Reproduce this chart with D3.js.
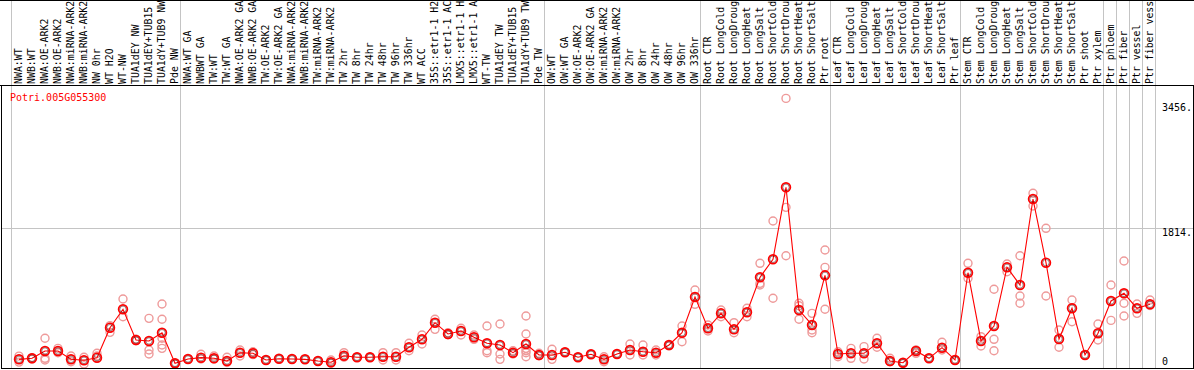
<!DOCTYPE html>
<html>
<head>
<meta charset="utf-8">
<script src="https://cdn.jsdelivr.net/npm/d3@7/dist/d3.min.js"></script>
<style>
  html, body { margin: 0; padding: 0; background: #fff; }
  svg { display: block; }
  text { font-family: "DejaVu Sans Mono", "Liberation Mono", monospace; }
</style>
</head>
<body>
<svg id="chart" width="1194" height="370"></svg>
<script>
const geneId = "Potri.005G055300";

// labels as they appear in the header (the source truncates to 14 characters)
const categories = [
  "NWA:WT","NWB:WT","NWA:OE-ARK2","NWB:OE-ARK2","NWA:miRNA-ARK2","NWB:miRNA-ARK2","NW 0hr","WT H2O","WT-NW","TUA1dEY NW","TUA1dEY+TUB15","TUA1dY+TUB9 NW","Pde NW",
  "NWA:WT GA","NWBWT GA","TW:WT","TW:WT GA","NWA:OE-ARK2 GA","NWB:OE-ARK2 GA","TW:OE-ARK2","TW:OE-ARK2 GA","NWA:miRNA-ARK2","NWB:miRNA-ARK2","TW:miRNA-ARK2","TW:miRNA-ARK2","TW 2hr","TW 8hr","TW 24hr","TW 48hr","TW 96hr","TW 336hr","WT ACC","35S::etr1-1 H2","35S::etr1-1 AC","LMX5::etr1-1 H","LMX5::etr1-1 A","WT-TW","TUA1dEY TW","TUA1dEY+TUB15","TUA1dY+TUB9 TW","Pde TW",
  "OW:WT","OW:WT GA","OW:OE-ARK2","OW:OE-ARK2 GA","OW:miRNA-ARK2","OW:miRNA-ARK2","OW 2hr","OW 8hr","OW 24hr","OW 48hr","OW 96hr","OW 336hr",
  "Root CTR","Root LongCold","Root LongDroug","Root LongHeat","Root LongSalt","Root ShortCold","Root ShortDrou","Root ShortHeat","Root ShortSalt","Ptr root",
  "Leaf CTR","Leaf LongCold","Leaf LongDroug","Leaf LongHeat","Leaf LongSalt","Leaf ShortCold","Leaf ShortDrou","Leaf ShortHeat","Leaf ShortSalt","Ptr leaf",
  "Stem CTR","Stem LongCold","Stem LongDroug","Stem LongHeat","Stem LongSalt","Stem ShortCold","Stem ShortDrou","Stem ShortHeat","Stem ShortSalt","Ptr shoot","Ptr xylem",
  "Ptr phloem","Ptr fiber","Ptr vessel","Ptr fiber vess"
];

// group boundaries (category index where a new group starts)
const groupBreaks = [0, 13, 41, 53, 63, 73, 84, 85, 86, 87, 88];

const means = [
  160,173,265,265,160,148,181,560,792,404,392,496,110,
  164,181,173,139,244,236,152,168,164,160,139,123,206,186,186,193,193,312,413,623,480,518,438,363,341,244,354,215,
  215,249,186,224,160,227,278,256,244,341,496,947,
  552,741,539,754,1196,1424,2333,783,594,1221,
  227,236,236,363,139,117,265,173,307,152,
  1254,392,581,1322,1099,2185,1381,417,805,215,489,
  897,994,805,855
];

const replicates = [
  [125,200],[165,180],[426,173,152],[299,244],[202,130],[186,101],[236,202],[585,501],[922,698],[413,395],[678,278,227],[859,666,426,341,299],[110,105],
  [164],[224,165],[202,165],[186,120],[278,202],[256,220],[152],[168],[164],[160],[139],[152,110],[244,186],[186],[186],[244,152],[244,152],[363,269],[467,354],[666,539],[496,470],[552,467],[467,413],[581,269,244],[606,227,160],[269,227],[707,480,299,269,244,193],[236,205],
  [287,160],[249],[186],[224],[193,130],[227],[354,215],[341,215],[278,215],[341,330],[581,383],[1036,855],
  [594,518],[783,698],[623,496],[805,698],[1373,1120,1099],[1907,931],[3456,2080,1469],[868,837,666],[741,530,496],[1541,1322,792],
  [256,193],[299,173],[320,164],[426,312],[173,130],[117,110],[236,280],[173],[375,278],[152],
  [1373,1184],[446,328],[1045,413,269],[1364,1267],[1469,960,868],[2257,2097],[1815,960],[530,312],[909,635],[215],[606,404],
  [1099,652],[1402,868,707],[859,741],[909,840]
];

const yTicks = [0, 1814, 3456];
const yTickLabels = ["0", "1814.", "3456."];

const W = 1194, H = 370;
const headerBottom = 85.5;
const plotBottom = 368.5;

const svg = d3.select("#chart");

const x = d3.scaleLinear().domain([0, categories.length]).range([11, 1155]);
const cx = i => x(i) + 8;
const y = d3.scaleLinear().domain([0, 3456]).range([372, 98.4]);

svg.append("defs").append("clipPath").attr("id", "plotclip")
  .append("rect").attr("x", 2).attr("y", headerBottom + 0.5).attr("width", 1191).attr("height", plotBottom - headerBottom - 1);

// vertical group gridlines
svg.append("g").selectAll("line").data(groupBreaks).join("line")
  .attr("x1", d => Math.round(x(d)) + 0.5).attr("x2", d => Math.round(x(d)) + 0.5)
  .attr("y1", 0).attr("y2", plotBottom)
  .attr("stroke", "#c4c4c4").attr("stroke-width", 1);

// horizontal gridline
svg.append("g").selectAll("line").data(yTicks.filter(t => t > 0 && t < 3456)).join("line")
  .attr("x1", 2).attr("x2", 1193)
  .attr("y1", d => Math.round(y(d)) + 0.5).attr("y2", d => Math.round(y(d)) + 0.5)
  .attr("stroke", "#c4c4c4").attr("stroke-width", 1);

// frame lines
const frame = svg.append("g").attr("stroke", "#000").attr("stroke-width", 1);
frame.append("line").attr("x1", 0).attr("x2", W).attr("y1", 0.5).attr("y2", 0.5);
frame.append("line").attr("x1", 0).attr("x2", W).attr("y1", headerBottom).attr("y2", headerBottom);
frame.append("line").attr("x1", 1.5).attr("x2", 1.5).attr("y1", headerBottom).attr("y2", plotBottom + 0.5);
frame.append("line").attr("x1", 1).attr("x2", W).attr("y1", plotBottom).attr("y2", plotBottom);
frame.append("line").attr("x1", 1193.5).attr("x2", 1193.5).attr("y1", headerBottom).attr("y2", plotBottom + 0.5);

// header labels
svg.append("g")
  .selectAll("text").data(categories).join("text")
  .attr("transform", (d, i) => `translate(${x(i) + 10.5},84) rotate(-90)`)
  .attr("font-size", "9.9px")
  .attr("fill", "#000")
  .text(d => d);

// title
svg.append("text").attr("x", 10).attr("y", 101)
  .attr("font-size", "10px").attr("fill", "#ff0000").text(geneId);

// y tick labels
const tickOffset = t => t === 0 ? -7 : (t === 3456 ? 13 : 8);
svg.append("g").selectAll("text").data(yTicks).join("text")
  .attr("x", 1162).attr("y", d => y(d) + tickOffset(d))
  .attr("font-size", "10px").attr("fill", "#000")
  .text((d, i) => yTickLabels[i]);

const plot = svg.append("g").attr("clip-path", "url(#plotclip)");

// replicate points
const repData = [];
replicates.forEach((arr, i) => arr.forEach(v => repData.push({ i, v })));
plot.append("g").selectAll("circle").data(repData).join("circle")
  .attr("cx", d => cx(d.i)).attr("cy", d => y(d.v)).attr("r", 4)
  .attr("fill", "none").attr("stroke", "#ee9a9a").attr("stroke-width", 1.4);

// mean line
plot.append("path").datum(means)
  .attr("d", d3.line().x((d, i) => cx(i)).y(d => y(d)))
  .attr("fill", "none").attr("stroke", "#ff0000").attr("stroke-width", 1.1);

// mean markers
const mg = plot.append("g");
mg.selectAll("circle.o").data(means).join("circle").attr("class", "o")
  .attr("cx", (d, i) => cx(i)).attr("cy", d => y(d)).attr("r", 4.4)
  .attr("fill", "none").attr("stroke", "#ff0000").attr("stroke-width", 1.7);
mg.selectAll("circle.in").data(means).join("circle").attr("class", "in")
  .attr("cx", (d, i) => cx(i)).attr("cy", d => y(d)).attr("r", 3.2)
  .attr("fill", "none").attr("stroke", "#300000").attr("stroke-width", 0.6).attr("stroke-opacity", 0.8);
</script>
</body>
</html>
